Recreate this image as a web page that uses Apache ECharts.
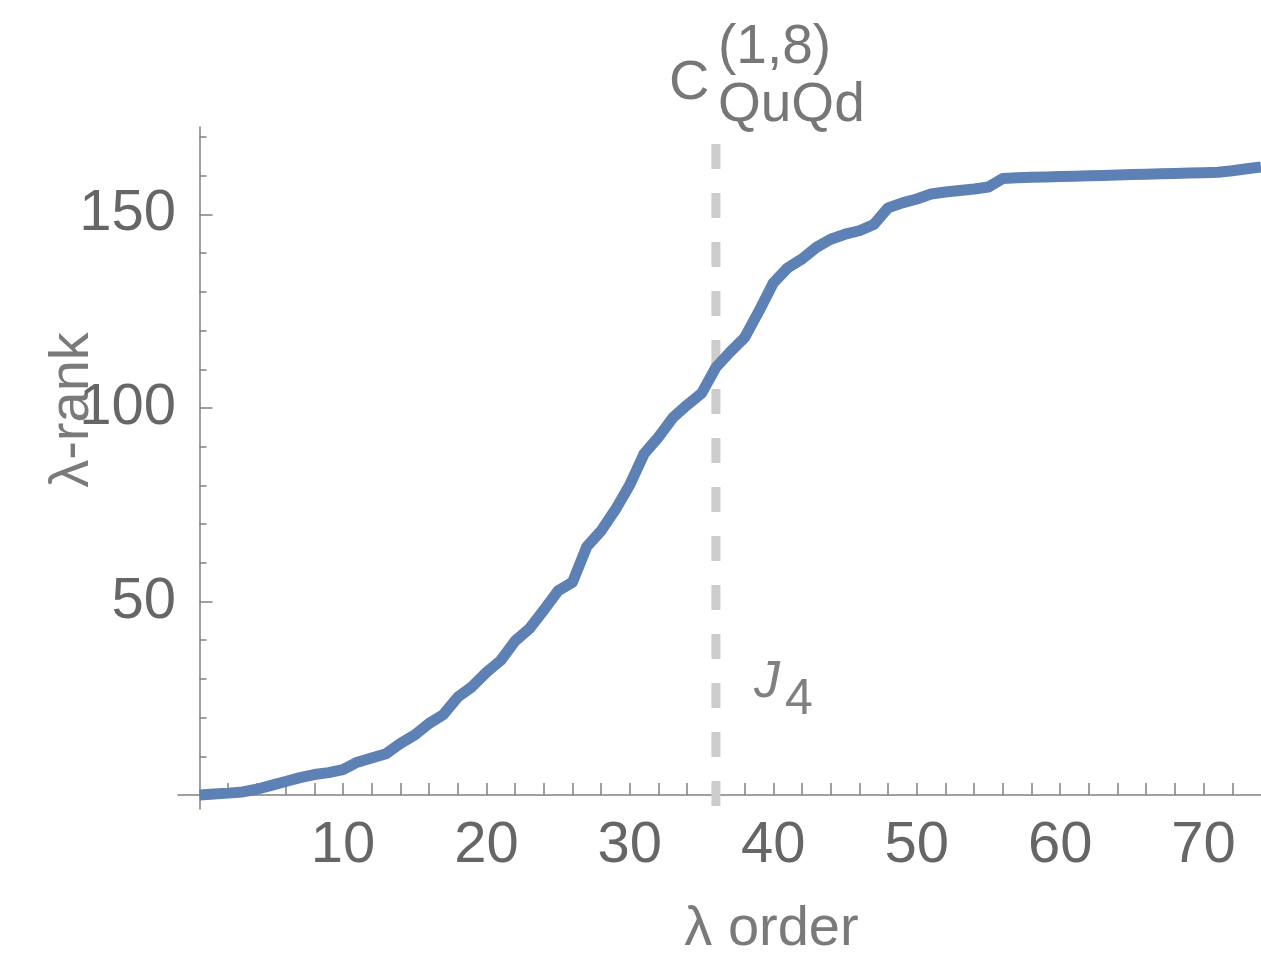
<!DOCTYPE html>
<html>
<head>
<meta charset="utf-8">
<script src="https://cdn.jsdelivr.net/npm/echarts@6/dist/echarts.min.js"></script>
<style>
html,body{margin:0;padding:0;background:#fff;}
#chart{width:1261px;height:958px;}
</style>
</head>
<body>
<div id="chart"></div>
<script>
// λ order (x) and λ-rank (y)
const lambdaOrder = [0,1,2,3,4,5,6,7,8,9,10,11,12,13,14,15,16,17,18,19,20,21,22,23,24,25,26,27,28,29,30,31,32,33,34,35,36,37,38,39,40,41,42,43,44,45,46,47,48,49,50,51,52,53,54,55,56,57,58,59,60,61,62,63,64,65,66,67,68,69,70,71,72,73,74];
const lambdaRank = [0,0.3,0.5,0.8,1.5,2.5,3.5,4.5,5.3,5.8,6.6,8.5,9.6,10.7,13.3,15.5,18.5,20.8,25.3,28.0,31.7,34.8,39.8,43.0,47.8,52.8,55.0,64.2,68.3,73.8,80.2,88.2,92.5,97.5,100.8,103.8,110.5,114.5,118.2,125.0,132.3,136.2,138.5,141.5,143.6,144.9,145.8,147.4,151.7,153.0,154.0,155.3,155.8,156.2,156.6,157.1,159.3,159.5,159.6,159.7,159.8,159.9,160.0,160.1,160.2,160.3,160.4,160.5,160.6,160.7,160.8,160.9,161.3,161.8,162.3];

// vertical marker (J4 threshold)
const markerX = 36;
const markerSpan = [168.2, -3.4];

// ticks and labels
const xTickValues = [2,4,6,8,10,12,14,16,18,20,22,24,26,28,30,32,34,36,38,40,42,44,46,48,50,52,54,56,58,60,62,64,66,68,70,72];
const xLabelValues = [10,20,30,40,50,60,70];
const yMinorTicks = [10,20,30,40,50,60,70,80,90,100,110,120,130,140,150,160,170];
const yMajorTicks = [50,100,150];

const seriesData = lambdaOrder.map((x, i) => [x, lambdaRank[i]]);
const markerData = markerSpan.map(v => [markerX, v]);

const FONT = '"Liberation Sans", Arial, Helvetica, sans-serif';
const axisGray = '#808080';
const labelGray = '#666666';

const chart = echarts.init(document.getElementById('chart'), null, {renderer: 'canvas'});
chart.setOption({
  animation: false,
  backgroundColor: '#ffffff',
  grid: {left: 178, right: 0, top: 127, bottom: 149, containLabel: false, outerBoundsMode: 'none'},
  xAxis: {
    type: 'value', min: -1.5, max: 74, position: 'bottom',
    axisLine: {show: true, onZero: true, onZeroAxisIndex: 0, lineStyle: {color: axisGray, width: 1.5}},
    axisTick: {show: true, inside: true, length: 12, customValues: xTickValues, lineStyle: {color: axisGray, width: 1.5}},
    axisLabel: {show: true, customValues: xLabelValues, margin: 8, color: labelGray, fontSize: 58, fontFamily: FONT},
    splitLine: {show: false},
    name: 'λ order', nameLocation: 'middle', nameGap: 93, nameMoveOverlap: false,
    nameTextStyle: {color: '#7a7a7a', fontSize: 56, fontFamily: FONT, padding: [0, 0, 0, 104]}
  },
  yAxis: [
    {
      type: 'value', min: -3.6, max: 172.6, position: 'left', offset: 0,
      axisLine: {show: true, onZero: true, onZeroAxisIndex: 0, lineStyle: {color: axisGray, width: 1.5}},
      axisTick: {show: true, inside: true, length: 7, customValues: yMinorTicks, lineStyle: {color: axisGray, width: 1.5}},
      axisLabel: {show: false},
      splitLine: {show: false}
    },
    {
      type: 'value', min: -3.6, max: 172.6, position: 'left', offset: 0,
      axisLine: {show: false, onZero: true, onZeroAxisIndex: 0},
      axisTick: {show: true, inside: true, length: 13, customValues: yMajorTicks, lineStyle: {color: axisGray, width: 1.5}},
      axisLabel: {show: true, customValues: yMajorTicks, margin: 2, color: labelGray, fontSize: 58, fontFamily: FONT},
      splitLine: {show: false},
      name: 'λ-rank', nameLocation: 'middle', nameGap: 77, nameMoveOverlap: false,
      nameTextStyle: {color: '#7a7a7a', fontSize: 56, fontFamily: FONT, padding: [0, 0, 0, 116]}
    }
  ],
  series: [
    {
      type: 'line', data: markerData, showSymbol: false, silent: true, z: 1,
      lineStyle: {color: '#cccccc', width: 9, type: [25, 24], cap: 'butt'}
    },
    {
      type: 'line', data: seriesData, showSymbol: false, z: 2,
      lineStyle: {color: '#5E81B5', width: 11, join: 'round', cap: 'butt'}
    }
  ],
  graphic: [
    {type: 'text', x: 669, y: 84, style: {text: 'C', font: '56px ' + FONT, fill: '#777777', textAlign: 'left', textVerticalAlign: 'middle'}},
    {type: 'text', x: 718, y: 48, style: {text: '(1,8)', font: '55px ' + FONT, fill: '#777777', textAlign: 'left', textVerticalAlign: 'middle'}},
    {type: 'text', x: 718, y: 106, style: {text: 'QuQd', font: '55px ' + FONT, fill: '#777777', textAlign: 'left', textVerticalAlign: 'middle'}},
    {type: 'text', x: 754, y: 683, style: {text: 'J', font: 'italic 52px ' + FONT, fill: '#808080', textAlign: 'left', textVerticalAlign: 'middle'}},
    {type: 'text', x: 785, y: 700, style: {text: '4', font: '50px ' + FONT, fill: '#808080', textAlign: 'left', textVerticalAlign: 'middle'}}
  ]
});
</script>
</body>
</html>
